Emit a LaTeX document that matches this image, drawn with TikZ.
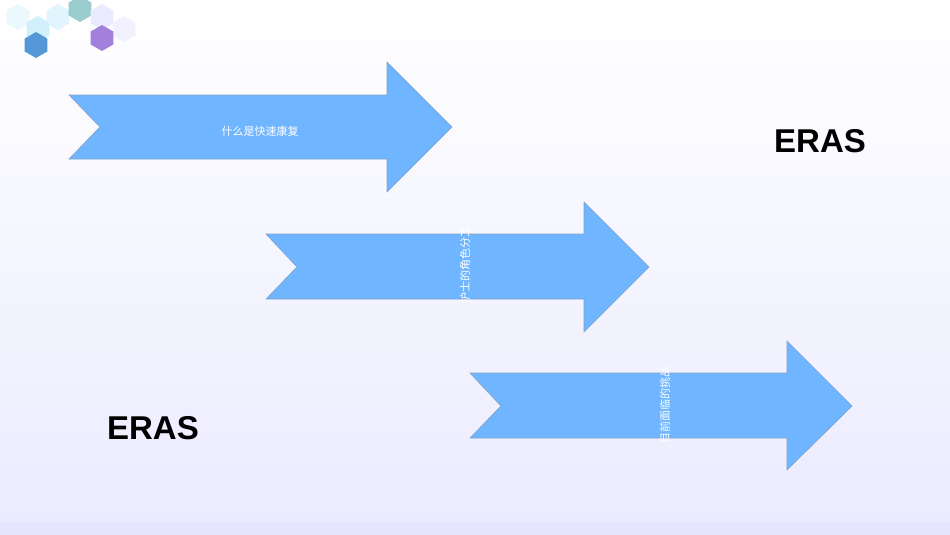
\documentclass[tikz,border=0pt]{standalone}
\usepackage{fontspec}
\setmainfont{Liberation Sans}
\newfontfamily\cjk{Noto Sans CJK SC}
\begin{document}
\begin{tikzpicture}[x=1pt,y=-1pt,
  arr/.style={fill=arrowblue,draw=arrowedge,line width=0.6pt},
  lbl/.style={text=white,font=\cjk\fontsize{11}{13}\selectfont},
  big/.style={font=\bfseries\fontsize{33}{38}\selectfont,text=black},
  hex/.style={regular polygon,regular polygon sides=6,shape border rotate=90,minimum width=26pt,inner sep=0pt}]
\usetikzlibrary{shapes.geometric}
\definecolor{arrowblue}{HTML}{6FB5FF}
\definecolor{arrowedge}{HTML}{7FA3C8}
\shade[top color=white,bottom color=blue!8] (0,0) rectangle (950,535);
\fill[blue!10] (0,522) rectangle (950,535);
\useasboundingbox (0,0) rectangle (950,535);
% hexagons
\node[hex,fill=cyan!8] at (18,17) {};
\node[hex,fill=cyan!12] at (58,17) {};
\node[hex,fill=cyan!18] at (38,29) {};
\node[hex,fill=teal!40] at (80,9) {};
\node[hex,fill=blue!8] at (102,17) {};
\node[hex,fill=blue!5] at (124,29) {};
\node[hex,fill=cyan!60!blue!70] at (36,45) {};
\node[hex,fill=blue!45!violet!50] at (102,38) {};
% arrows
\draw[arr] (69,95) -- (387,95) -- (387,62) -- (452,127) -- (387,192) -- (387,159) -- (69,159) -- (100,127) -- cycle;
\draw[arr] (266,234) -- (584,234) -- (584,202) -- (649,267) -- (584,332) -- (584,299) -- (266,299) -- (297,267) -- cycle;
\draw[arr] (470,373) -- (787,373) -- (787,341) -- (852,406) -- (787,470) -- (787,438) -- (470,438) -- (501,406) -- cycle;
\node[lbl] (t1) at (260,131) {什么是快速康复};
\node[lbl,rotate=90] (t2) at (465,265) {护士的角色分工};
\node[lbl,rotate=90] (t3) at (665,405) {目前面临的挑战};
\node[big] (e1) at (820,141) {ERAS};
\node[big] (e2) at (153,428) {ERAS};
\end{tikzpicture}
\end{document}
